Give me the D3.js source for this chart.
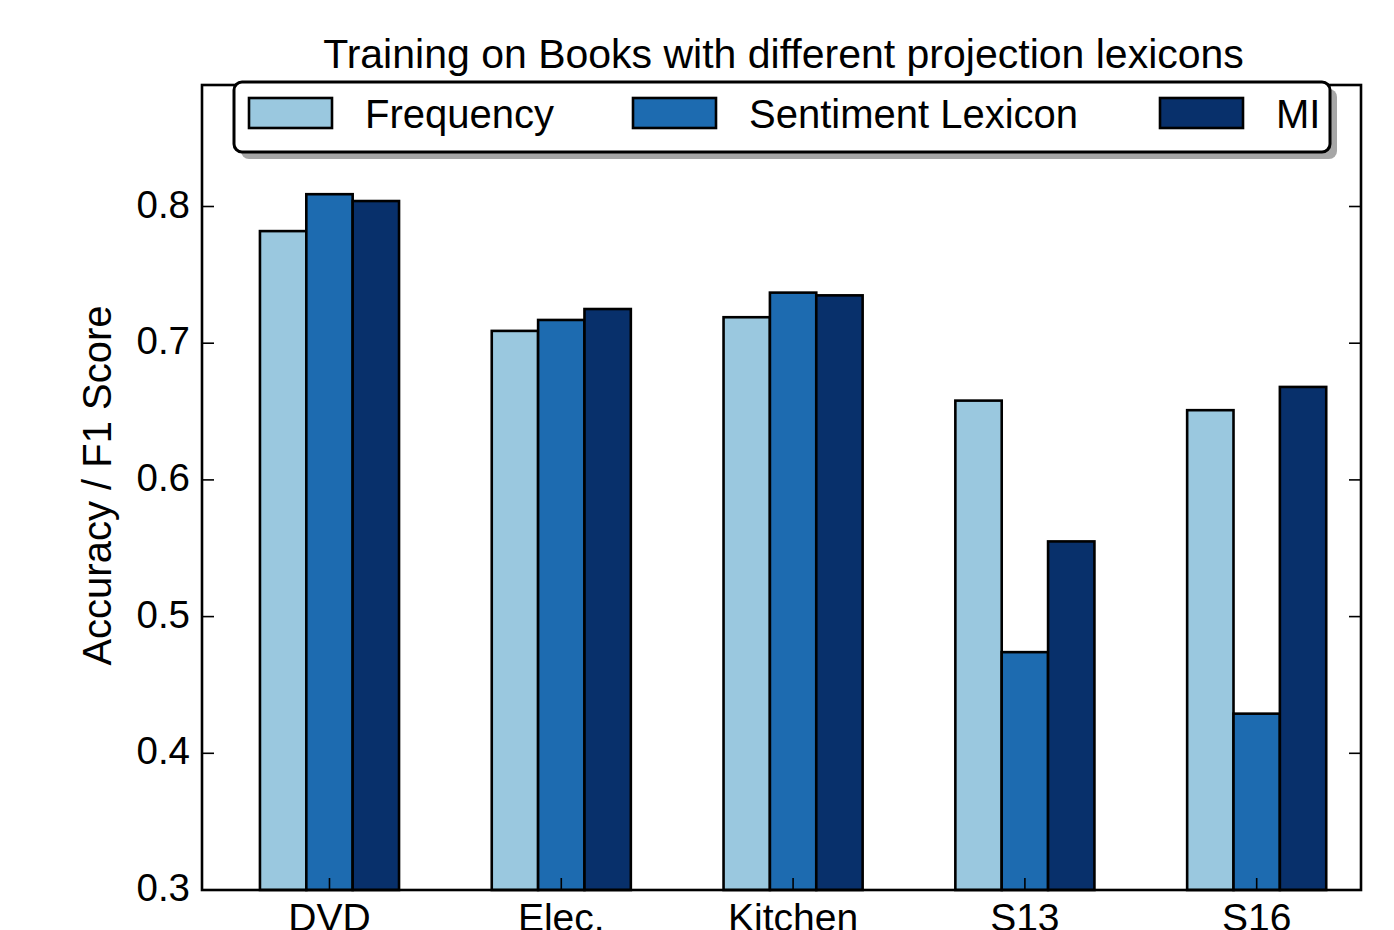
<!DOCTYPE html>
<html>
<head>
<meta charset="utf-8">
<script src="https://cdn.jsdelivr.net/npm/d3@7"></script>
<style>
  html, body { margin: 0; padding: 0; background: #fff; }
  svg { display: block; font-family: "Liberation Sans", Arial, Helvetica, sans-serif; }
</style>
</head>
<body>
<svg id="chart" width="1394" height="930"></svg>
<script>
// Categories (test domains) and the three projection-lexicon series
const categories = ["DVD", "Elec.", "Kitchen", "S13", "S16"];
const seriesNames = ["Frequency", "Sentiment Lexicon", "MI"];
const frequency = [0.782, 0.709, 0.719, 0.658, 0.651];
const sentimentLexicon = [0.809, 0.717, 0.737, 0.474, 0.429];
const mi = [0.804, 0.725, 0.735, 0.555, 0.668];
const yTicks = [0.3, 0.4, 0.5, 0.6, 0.7, 0.8];
const colors = ["#9ac8df", "#1d6bb0", "#08306b"];

const series = [frequency, sentimentLexicon, mi];
const barWidth = 0.2;

const svg = d3.select("#chart");
const plotLeft = 202, plotRight = 1361, plotTop = 85, plotBottom = 890;

const x = d3.scaleLinear().domain([-0.25, 4.75]).range([plotLeft, plotRight]);
const y = d3.scaleLinear().domain([0.3, 0.8]).range([plotBottom, 206.5]);
const yTop = y.invert(plotTop);

// Bars: each group starts at integer i, bars side by side of width 0.2
const groups = svg.append("g");
series.forEach((vals, j) => {
  groups.selectAll(null)
    .data(vals)
    .enter()
    .append("rect")
    .attr("x", (d, i) => x(i + j * barWidth))
    .attr("y", d => y(d))
    .attr("width", x(barWidth) - x(0))
    .attr("height", d => y(0.3) - y(d))
    .attr("fill", colors[j])
    .attr("stroke", "#000")
    .attr("stroke-width", 2.6);
});

// Ticks pointing inward on all four sides
const tickLen = 12;
const ax = svg.append("g").attr("stroke", "#000").attr("stroke-width", 1.6);
yTicks.forEach(t => {
  ax.append("line").attr("x1", plotLeft).attr("x2", plotLeft + tickLen).attr("y1", y(t)).attr("y2", y(t));
  ax.append("line").attr("x1", plotRight).attr("x2", plotRight - tickLen).attr("y1", y(t)).attr("y2", y(t));
});
categories.forEach((c, i) => {
  const cx = x(i + 1.5 * barWidth);
  ax.append("line").attr("x1", cx).attr("x2", cx).attr("y1", plotBottom).attr("y2", plotBottom - tickLen);
  ax.append("line").attr("x1", cx).attr("x2", cx).attr("y1", y(yTop)).attr("y2", y(yTop) + tickLen);
});

// Frame
svg.append("rect")
  .attr("x", plotLeft).attr("y", y(yTop))
  .attr("width", plotRight - plotLeft).attr("height", plotBottom - y(yTop))
  .attr("fill", "none").attr("stroke", "#000").attr("stroke-width", 2.6);

// Y tick labels
svg.append("g").selectAll("text")
  .data(yTicks).enter().append("text")
  .attr("x", plotLeft - 12)
  .attr("y", d => y(d) + 11)
  .attr("text-anchor", "end")
  .attr("font-size", 38.5)
  .text(d => d.toFixed(1));

// X tick labels
svg.append("g").selectAll("text")
  .data(categories).enter().append("text")
  .attr("x", (d, i) => x(i + 1.5 * barWidth))
  .attr("y", 931)
  .attr("text-anchor", "middle")
  .attr("font-size", 39)
  .text(d => d);

// Axis label
svg.append("text")
  .attr("transform", `translate(111, ${(plotTop + plotBottom) / 2 - 2}) rotate(-90)`)
  .attr("text-anchor", "middle")
  .attr("font-size", 40)
  .text("Accuracy / F1 Score");

// Title
svg.append("text")
  .attr("x", (plotLeft + plotRight) / 2 + 2)
  .attr("y", 68)
  .attr("text-anchor", "middle")
  .attr("font-size", 41)
  .text("Training on Books with different projection lexicons");

// Legend with drop shadow
const lg = { x: 234, y: 82, w: 1096, h: 70, r: 8 };
svg.append("rect")
  .attr("x", lg.x + 7).attr("y", lg.y + 7)
  .attr("width", lg.w).attr("height", lg.h).attr("rx", lg.r)
  .attr("fill", "#a6a6a6");
svg.append("rect")
  .attr("x", lg.x).attr("y", lg.y)
  .attr("width", lg.w).attr("height", lg.h).attr("rx", lg.r)
  .attr("fill", "#fff").attr("stroke", "#000").attr("stroke-width", 3);

const patchX = [249, 633, 1160];
const legend = svg.append("g");
seriesNames.forEach((name, j) => {
  legend.append("rect")
    .attr("x", patchX[j]).attr("y", 98)
    .attr("width", 83).attr("height", 30)
    .attr("fill", colors[j]).attr("stroke", "#000").attr("stroke-width", 2.6);
  legend.append("text")
    .attr("x", patchX[j] + 116).attr("y", 128)
    .attr("font-size", 40)
    .text(name);
});
</script>
</body>
</html>
